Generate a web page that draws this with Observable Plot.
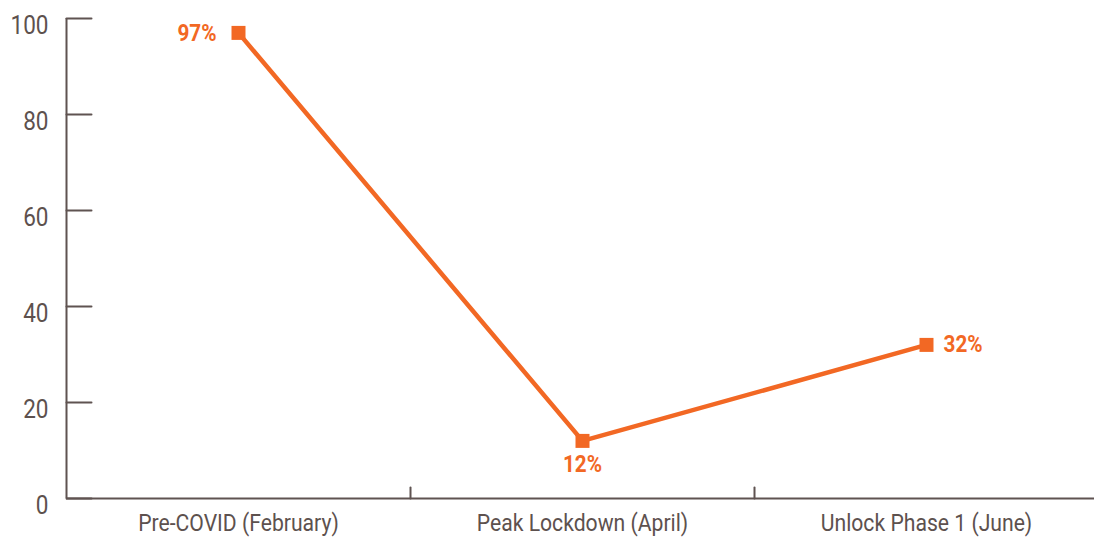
<!DOCTYPE html>
<html><head><meta charset="utf-8">
<script src="https://cdn.jsdelivr.net/npm/d3@7"></script>
<script src="https://cdn.jsdelivr.net/npm/@observablehq/plot@0.6"></script>
<style>body{margin:0;background:#fff;}</style>
</head><body><div id="chart"></div>
<script>
const categories = ["Pre-COVID (February)", "Peak Lockdown (April)", "Unlock Phase 1 (June)"];
const values = [97, 12, 32];
const valueLabels = ["97%", "12%", "32%"];
const labelSide = ["left", "below", "right"];
const yTicks = [0, 20, 40, 60, 80, 100];
const xBoundaries = [1, 2];

const rows = categories.map((c, i) => ({pos: i + 0.5, category: c, value: values[i], label: valueLabels[i], side: labelSide[i]}));

const axisColor = "#5f5351";
const textColor = "#5d514e";
const orange = "#f26824";
const tickShape = {draw(ctx, l) { ctx.moveTo(0, 0); ctx.lineTo(0, -l); }};

const chart = Plot.plot({
  width: 1094, height: 538,
  marginLeft: 66, marginRight: 0, marginTop: 18, marginBottom: 40,
  x: {domain: [0, 3], range: [66, 1098], axis: null},
  y: {domain: [0, 100], axis: null},
  style: {fontFamily: "Roboto, sans-serif", background: "#fff", overflow: "visible"},
  marks: [
    Plot.ruleY([0], {stroke: axisColor, strokeWidth: 2}),
    Plot.ruleX([0], {y1: 0, y2: 100, stroke: axisColor, strokeWidth: 2}),
    Plot.vector(yTicks, {x: 0, y: d => d, rotate: 90, length: 25, anchor: "start", shape: tickShape, stroke: axisColor, strokeWidth: 2}),
    Plot.vector(xBoundaries, {x: d => d, y: 0, rotate: 0, length: 11, anchor: "start", shape: tickShape, stroke: axisColor, strokeWidth: 2}),
    Plot.text(yTicks, {x: 0, y: d => d, text: d => String(d), textAnchor: "end", dx: -18, dy: 7, fontSize: 25, fill: textColor}),
    Plot.text(rows, {x: "pos", y: 0, text: "category", dy: 25, fontSize: 23.5, fill: textColor}),
    Plot.line(rows, {x: "pos", y: "value", stroke: orange, strokeWidth: 4.5}),
    Plot.dot(rows, {x: "pos", y: "value", symbol: "square", r: 7.9, fill: orange}),
    Plot.text(rows.filter(d => d.side === "left"), {x: "pos", y: "value", text: "label", textAnchor: "end", dx: -22, dy: 1, fontSize: 23, fontWeight: "bold", fill: orange}),
    Plot.text(rows.filter(d => d.side === "right"), {x: "pos", y: "value", text: "label", textAnchor: "start", dx: 17, dy: 0, fontSize: 23, fontWeight: "bold", fill: orange}),
    Plot.text(rows.filter(d => d.side === "below"), {x: "pos", y: "value", text: "label", dy: 24, fontSize: 23, fontWeight: "bold", fill: orange})
  ]
});
document.getElementById("chart").append(chart);
chart.querySelectorAll("text").forEach(t => {
  const len = t.getComputedTextLength();
  t.setAttribute("textLength", (len * 0.9).toFixed(2));
  t.setAttribute("lengthAdjust", "spacingAndGlyphs");
});
</script>
</body></html>
